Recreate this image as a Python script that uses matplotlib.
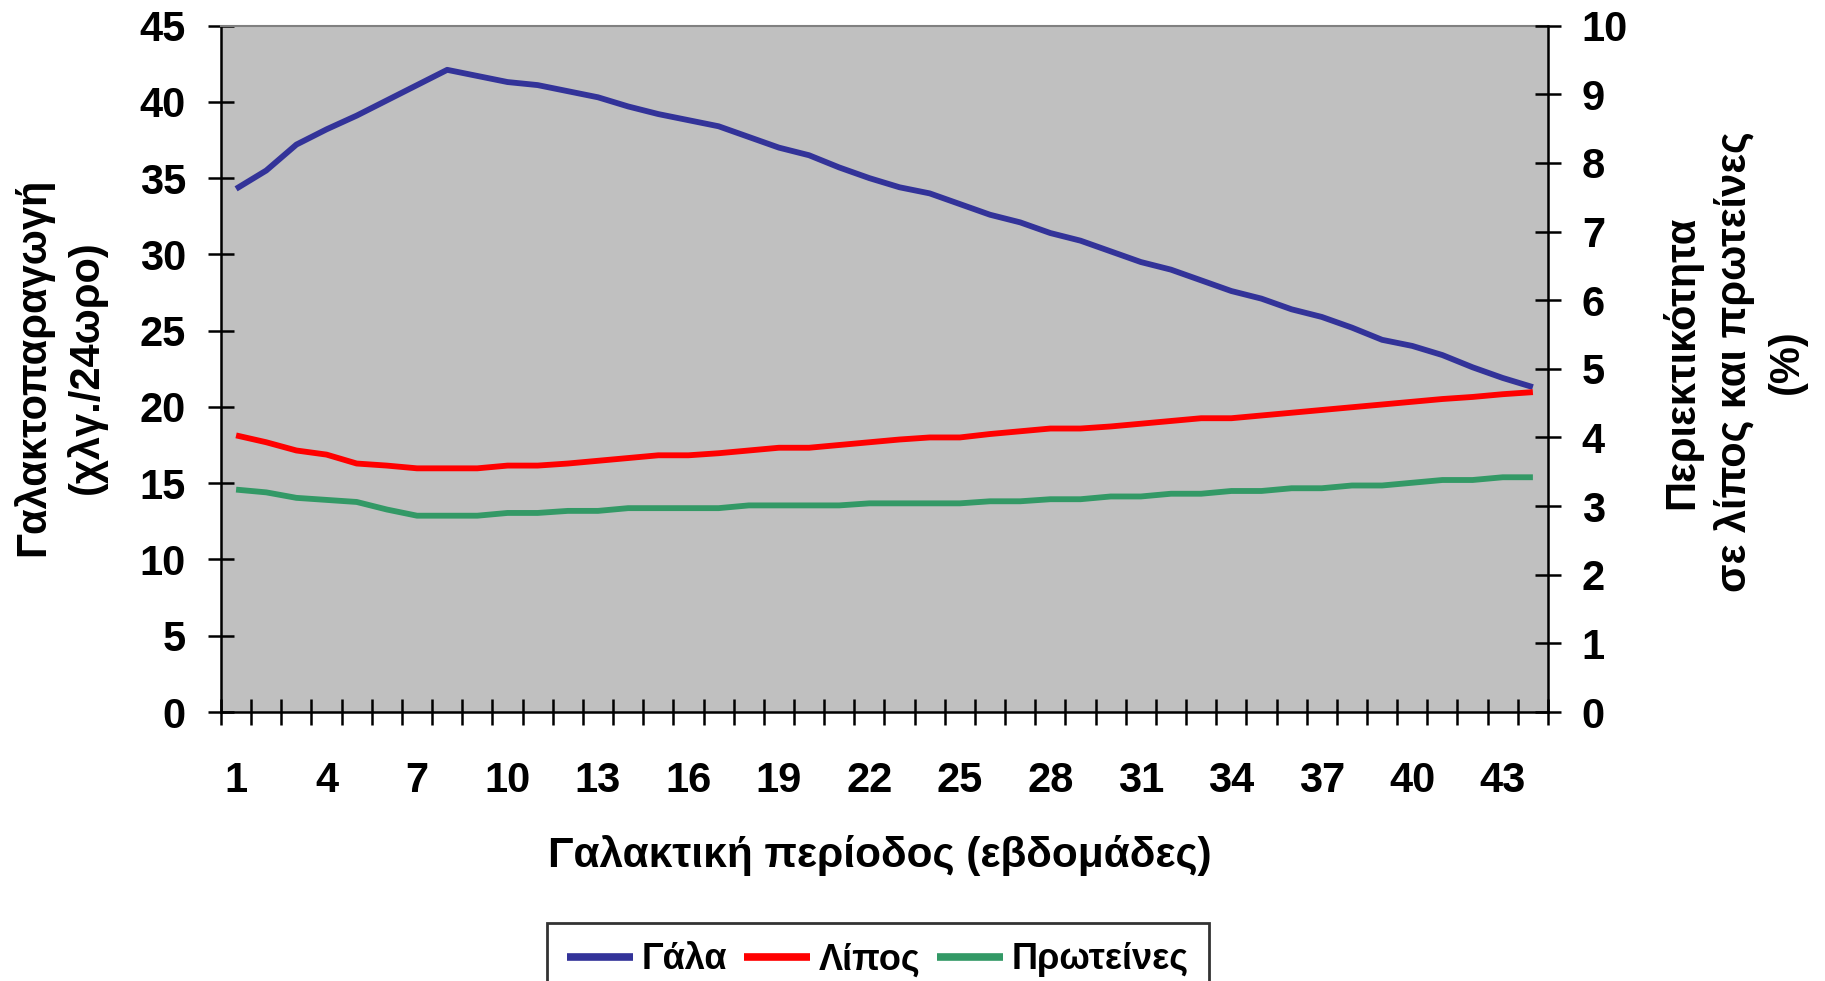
import matplotlib
matplotlib.use("Agg")
import matplotlib.pyplot as plt
from matplotlib.lines import Line2D
import numpy as np

# weekly averages over the lactation period
weeks = list(range(1, 45))
milk = [34.3, 35.5, 37.2, 38.2, 39.1, 40.1, 41.1, 42.1, 41.7, 41.3,
        41.1, 40.7, 40.3, 39.7, 39.2, 38.8, 38.4, 37.7, 37.0, 36.5,
        35.7, 35.0, 34.4, 34.0, 33.3, 32.6, 32.1, 31.4, 30.9, 30.2,
        29.5, 29.0, 28.3, 27.6, 27.1, 26.4, 25.9, 25.2, 24.4, 24.0,
        23.4, 22.6, 21.9, 21.3]
fat = [4.03, 3.93, 3.81, 3.75, 3.62, 3.59, 3.55, 3.55, 3.55, 3.59,
       3.59, 3.62, 3.66, 3.70, 3.74, 3.74, 3.77, 3.81, 3.85, 3.85,
       3.89, 3.93, 3.97, 4.00, 4.00, 4.05, 4.09, 4.13, 4.13, 4.16,
       4.20, 4.24, 4.28, 4.28, 4.32, 4.36, 4.40, 4.44, 4.48, 4.52,
       4.56, 4.59, 4.63, 4.66]
protein = [3.24, 3.20, 3.12, 3.09, 3.06, 2.95, 2.86, 2.86, 2.86, 2.90,
           2.90, 2.93, 2.93, 2.97, 2.97, 2.97, 2.97, 3.01, 3.01, 3.01,
           3.01, 3.04, 3.04, 3.04, 3.04, 3.07, 3.07, 3.10, 3.10, 3.14,
           3.14, 3.18, 3.18, 3.22, 3.22, 3.26, 3.26, 3.30, 3.30, 3.34,
           3.38, 3.38, 3.42, 3.42]
label_weeks = weeks[::3]
week_labels = [str(w) for w in label_weeks]
series_names = ["Γάλα", "Λίπος", "Πρωτείνες"]
colors = ["#333399", "#FF0000", "#339966"]

plt.rcParams['font.family'] = ['Liberation Sans', 'DejaVu Sans']
plt.rcParams['font.weight'] = 'bold'
plt.rcParams['font.size'] = 30

fig = plt.figure(figsize=(18.25, 9.81), dpi=100)
ax = fig.add_axes([0.1211, 0.2742, 0.7271, 0.6997])
ax.set_facecolor('#C0C0C0')

lw = 4.2
ax.plot(weeks, milk, color=colors[0], lw=lw, solid_capstyle='butt')

ax2 = ax.twinx()
ax2.plot(weeks, fat, color=colors[1], lw=lw, solid_capstyle='butt')
ax2.plot(weeks, protein, color=colors[2], lw=lw, solid_capstyle='butt')

ax.set_xlim(0.5, 44.5)
ax.set_ylim(0, 45)
ax2.set_ylim(0, 10)
ax.set_yticks(range(0, 46, 5))
ax2.set_yticks(range(0, 11))

# category boundaries get the tick marks, every third week gets a label
ax.set_xticks(np.arange(0.5, 45, 1))
ax.set_xticks(label_weeks, minor=True)
ax.set_xticklabels(week_labels, minor=True)
ax.tick_params(axis='x', which='major', direction='inout', length=18.7,
               width=1.8, labelbottom=False)
ax.tick_params(axis='x', which='minor', length=0, pad=35)
ax.tick_params(axis='y', direction='inout', length=18.7, width=1.8, pad=16)
ax2.tick_params(axis='y', direction='inout', length=18.7, width=1.8, pad=15)

for s in ['left', 'bottom']:
    ax.spines[s].set_linewidth(1.8)
    ax.spines[s].set_color('black')
ax.spines['top'].set_color('#808080')
ax.spines['top'].set_linewidth(1.5)
ax.spines['right'].set_visible(False)
for s in ['left', 'top', 'bottom']:
    ax2.spines[s].set_visible(False)
ax2.spines['right'].set_linewidth(1.8)

fig.text(0.0325, 0.626, "Γαλακτοπαραγωγή\n(χλγ./24ωρο)", rotation=90,
         ha='center', va='center', multialignment='center', linespacing=1.38)
fig.text(0.950, 0.631, "Περιεκτικότητα\nσε λίπος και πρωτείνες\n(%)",
         rotation=90, ha='center', va='center', multialignment='center',
         linespacing=1.38)
fig.text(0.482, 0.1284, "Γαλακτική περίοδος (εβδομάδες)",
         ha='center', va='center', fontsize=30.5)

handles = [Line2D([], [], color=c, lw=5.5, solid_capstyle='butt') for c in colors]
leg = fig.legend(handles, series_names, loc='upper center',
                 bbox_to_anchor=(0.481, 0.0595), ncol=3, frameon=True,
                 fancybox=False, edgecolor='black', handlelength=1.83,
                 handletextpad=0.25, columnspacing=0.45, fontsize=26,
                 borderpad=0.55, borderaxespad=0)
leg.get_frame().set_linewidth(2.0)

fig.savefig("out.png", dpi=100)
